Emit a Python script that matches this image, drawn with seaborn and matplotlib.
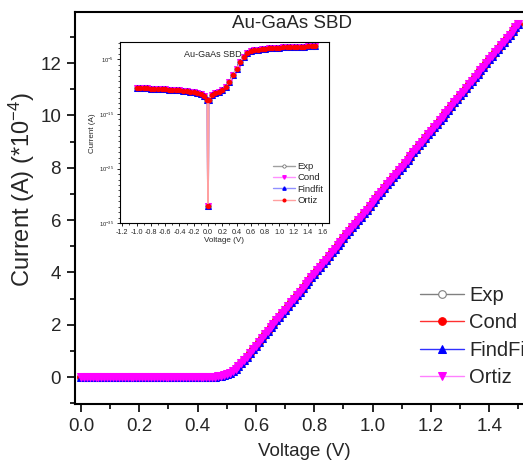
import numpy as np
import pandas as pd
import matplotlib
matplotlib.use("Agg")
import matplotlib.pyplot as plt
from matplotlib.ticker import MultipleLocator, FixedLocator, LogFormatterMathtext, NullFormatter
import seaborn as sns

sns.set_theme(style="ticks")
plt.rcParams['font.family'] = ['Liberation Sans', 'DejaVu Sans']
plt.rcParams['mathtext.fontset'] = 'custom'
plt.rcParams['mathtext.rm'] = 'Liberation Sans'
plt.rcParams['mathtext.it'] = 'Liberation Sans'
plt.rcParams['mathtext.default'] = 'regular'

# ---------------- main panel data (Current in units of 1e-4 A) ----------------
voltage = [round(0.01 * i, 2) for i in range(151)]
current_exp = [
    0.0, 0.0, 0.0, 0.0, 0.0, 0.0, 0.0, 0.0, 0.0, 0.0,
    0.0, 0.0, 0.0, 0.0, 0.0, 0.0, 0.0, 0.0, 0.0, 0.0,
    0.0, 0.0, 0.0, 0.0, 0.0, 0.0, 0.0, 0.0, 0.0, 0.0,
    0.0, 0.0, 0.0, 0.0, 0.0, 0.0, 0.0, 0.0, 0.0, 0.0,
    0.0, 0.0, 0.0, 0.0, 0.0,
    0.01, 0.02, 0.03, 0.05, 0.08,
    0.12, 0.17, 0.24, 0.32, 0.42, 0.53, 0.65, 0.78, 0.92, 1.06,
    1.20, 1.35, 1.49, 1.63, 1.77, 1.91, 2.04, 2.18, 2.31, 2.45,
    2.58, 2.72, 2.85, 2.99, 3.13, 3.26, 3.40, 3.54, 3.67, 3.81,
    3.95, 4.08, 4.22, 4.35, 4.49, 4.63, 4.76, 4.90, 5.04, 5.17,
    5.31, 5.45, 5.58, 5.72, 5.86, 5.99, 6.13, 6.27, 6.40, 6.54,
    6.68, 6.81, 6.95, 7.08, 7.22, 7.36, 7.49, 7.63, 7.77, 7.90,
    8.04, 8.18, 8.31, 8.45, 8.59, 8.72, 8.86, 9.00, 9.13, 9.27,
    9.41, 9.54, 9.68, 9.81, 9.95, 10.09, 10.22, 10.36, 10.50, 10.63,
    10.77, 10.91, 11.04, 11.18, 11.32, 11.45, 11.59, 11.73, 11.86, 12.00,
    12.14, 12.27, 12.41, 12.54, 12.68, 12.82, 12.95, 13.09, 13.23, 13.36,
    13.50,
]
current_cond = list(current_exp)
current_findfit = list(current_exp)
current_ortiz = list(current_exp)

series_names = ["Exp", "Cond", "FindFit", "Ortiz"]

# ---------------- inset data (log10 of current in A) ----------------
inset_voltage = [
    -1.00, -0.95, -0.90, -0.85, -0.80, -0.75, -0.70, -0.65, -0.60, -0.55,
    -0.50, -0.45, -0.40, -0.35, -0.30, -0.25, -0.20, -0.15, -0.10, -0.05,
    -0.01, 0.00, 0.01, 0.05, 0.10, 0.15, 0.20, 0.25, 0.30, 0.35,
    0.40, 0.45, 0.50, 0.55, 0.60, 0.65, 0.70, 0.75, 0.80, 0.85,
    0.90, 0.95, 1.00, 1.05, 1.10, 1.15, 1.20, 1.25, 1.30, 1.35,
    1.40, 1.45, 1.50,
]
inset_log_current = [
    -10.25, -10.28, -10.31, -10.34, -10.37, -10.40, -10.43, -10.47, -10.51, -10.55,
    -10.60, -10.65, -10.70, -10.76, -10.83, -10.92, -11.03, -11.17, -11.38, -11.72,
    -12.50, -31.90, -12.40, -11.60, -11.15, -10.90, -10.65, -10.10, -9.10, -7.90,
    -6.70, -5.50, -4.50, -3.90, -3.55, -3.35, -3.22, -3.13, -3.06, -3.00,
    -2.95, -2.91, -2.87, -2.84, -2.81, -2.78, -2.76, -2.73, -2.71, -2.68,
    -2.66, -2.64, -2.62,
]
inset_names = ["Exp", "Cond", "Findfit", "Ortiz"]

# ---------------- figure ----------------
W, H = 523, 461
fig = plt.figure(figsize=(W / 100, H / 100), dpi=100)

def fx(px):
    return px / W

def fy(py):
    return 1 - py / H

ax = fig.add_axes([fx(75), fy(404), fx(533.5) - fx(75), fy(12) - fy(404)])

main_styles = [
    dict(color="#808080", marker="o", markerfacecolor="white", markeredgecolor="#808080", markersize=5.5, markeredgewidth=0.8),
    dict(color="#ff3030", marker="o", markerfacecolor="#ff0000", markeredgecolor="#ff0000", markersize=5.5),
    dict(color="#3030ff", marker="^", markerfacecolor="#0000ff", markeredgecolor="#0000ff", markersize=6),
    dict(color="#ff80ff", marker="v", markerfacecolor="#ff00ff", markeredgecolor="#ff00ff", markersize=6),
]
main_values = [current_exp, current_cond, current_findfit, current_ortiz]

handles = []
for name, vals, st in zip(series_names, main_values, main_styles):
    df = pd.DataFrame({"V": voltage, "I": vals})
    sns.lineplot(data=df, x="V", y="I", ax=ax, sort=False, estimator=None,
                 linewidth=1.0, label=name, legend=False, **st)
    handles.append(ax.lines[-1])

ax.set_xlim(-0.0206, 1.552)
ax.set_ylim(-1.03, 13.95)
ax.xaxis.set_major_locator(MultipleLocator(0.2))
ax.xaxis.set_minor_locator(MultipleLocator(0.1))
ax.yaxis.set_major_locator(MultipleLocator(2))
ax.yaxis.set_minor_locator(MultipleLocator(1))
ax.xaxis.set_major_formatter(matplotlib.ticker.FormatStrFormatter("%.1f"))
ax.tick_params(axis="both", which="major", direction="out", length=6, width=1.2, labelsize=13.5, color="black", pad=4)
ax.tick_params(axis="both", which="minor", direction="out", length=3.5, width=1.2, color="black")
for s in ["left", "bottom", "top"]:
    ax.spines[s].set_linewidth(1.5)
    ax.spines[s].set_color("black")
ax.spines["right"].set_visible(False)
ax.set_xlabel("Voltage (V)", fontsize=13.5, labelpad=6)
ax.set_ylabel("Current (A) (*10$^{-4}$)", fontsize=17)
ax.yaxis.set_label_coords(-0.083, 0.548)

fig.legend(handles=handles, labels=series_names, loc="center left",
           bbox_to_anchor=(fx(420), fy(336.5)), frameon=False, fontsize=14.5,
           handlelength=2.2, handletextpad=0.25, labelspacing=0.42,
           borderpad=0, borderaxespad=0, numpoints=1)

fig.text(fx(292), fy(23), "Au-GaAs SBD", fontsize=13.5, ha="center", va="center")

# ---------------- inset ----------------
axi = fig.add_axes([fx(120), fy(223.3), fx(329) - fx(120), fy(42.3) - fy(223.3)])
inset_current = [10.0 ** v for v in inset_log_current]
inset_styles = [
    dict(color="#a0a0a0", marker="o", markerfacecolor="#909090", markeredgecolor="#606060", markersize=4, markeredgewidth=0.5),
    dict(color="#ff90ff", marker="v", markerfacecolor="#ff00ff", markeredgecolor="#ff00ff", markersize=4.2),
    dict(color="#9090ff", marker="^", markerfacecolor="#0000ff", markeredgecolor="#0000ff", markersize=4.0),
    dict(color="#ffa0a0", marker="o", markerfacecolor="#ff0000", markeredgecolor="#ff0000", markersize=3.2),
]
ihandles = []
for name, st in zip(inset_names, inset_styles):
    df = pd.DataFrame({"V": inset_voltage, "I": inset_current})
    sns.lineplot(data=df, x="V", y="I", ax=axi, sort=False, estimator=None,
                 linewidth=1.2, legend=False, **st)
    hst = dict(st)
    hst["markersize"] = st["markersize"] * 0.6
    if name == "Exp":
        hst["markerfacecolor"] = "white"
    ihandles.append(matplotlib.lines.Line2D([], [], linewidth=1.0, **hst))

axi.set_yscale("log")
axi.set_xlim(-1.232, 1.694)
axi.set_ylim(1e-35, 10 ** -1.9)
axi.set_yticks([1e-35, 1e-25, 1e-15, 1e-5])
axi.yaxis.set_major_formatter(LogFormatterMathtext())
axi.yaxis.set_minor_locator(FixedLocator([10.0 ** k for k in range(-35, -1)]))
axi.yaxis.set_minor_formatter(NullFormatter())
axi.xaxis.set_major_locator(MultipleLocator(0.2))
axi.xaxis.set_minor_locator(MultipleLocator(0.1))
axi.xaxis.set_major_formatter(matplotlib.ticker.FormatStrFormatter("%.1f"))
axi.tick_params(axis="both", which="major", direction="out", length=2.5, width=0.6, labelsize=5.2, pad=1.5, color="black")
axi.tick_params(axis="y", which="major", labelsize=4.2)
axi.tick_params(axis="both", which="minor", direction="out", length=1.5, width=0.5, color="black")
for s in axi.spines.values():
    s.set_linewidth(0.8)
    s.set_color("black")
axi.set_xlabel("Voltage (V)", fontsize=5.8, labelpad=1)
axi.set_ylabel("Current (A)", fontsize=5.8, labelpad=2)
axi.text(0.445, 0.96, "Au-GaAs SBD", transform=axi.transAxes, fontsize=6.5, ha="center", va="top")
axi.legend(handles=ihandles, labels=inset_names, loc="center left",
           bbox_to_anchor=(0.73, 0.22), frameon=False, fontsize=6.8,
           handlelength=2.4, handletextpad=0.2, labelspacing=0.25,
           borderpad=0, borderaxespad=0, numpoints=1)

fig.savefig("out.png", dpi=100)
